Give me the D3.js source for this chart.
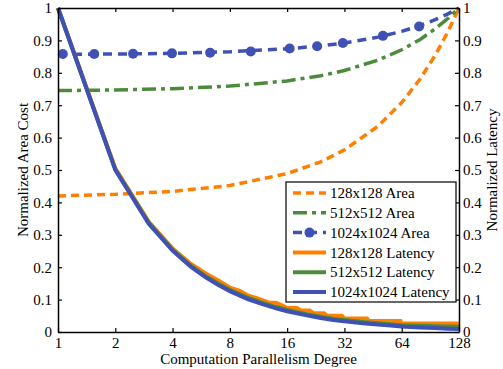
<!DOCTYPE html>
<html><head><meta charset="utf-8">
<script src="https://cdn.jsdelivr.net/npm/d3@7"></script>
<style>body{margin:0;background:#fff}svg{display:block}text{font-family:"Liberation Serif","Times New Roman",serif;fill:#000}</style>
</head><body><svg id="c" width="503" height="369"></svg>
<script>
// ---- data ----
const xTicks = [1, 2, 4, 8, 16, 32, 64, 128];
const yTicks = [0, 0.1, 0.2, 0.3, 0.4, 0.5, 0.6, 0.7, 0.8, 0.9, 1];
const yTickLabels = ["0", "0.1", "0.2", "0.3", "0.4", "0.5", "0.6", "0.7", "0.8", "0.9", "1"];

const areaN = [1, 2, 4, 8, 16, 24, 32, 48, 64, 80, 96, 112, 128];
const area128 = [0.420, 0.425, 0.434, 0.452, 0.489, 0.525, 0.562, 0.635, 0.708, 0.781, 0.854, 0.927, 1.0];
const area512 = [0.745, 0.747, 0.751, 0.759, 0.775, 0.791, 0.807, 0.839, 0.871, 0.903, 0.936, 0.968, 1.0];
const area1024 = [0.857, 0.858, 0.860, 0.865, 0.874, 0.883, 0.892, 0.910, 0.928, 0.946, 0.964, 0.982, 1.0];
const markerN = [1.06, 1.55, 2.48, 3.97, 6.3, 10.3, 16.5, 23, 31.4, 51, 79];
const markerVal = [0.858, 0.858, 0.859, 0.860, 0.862, 0.866, 0.875, 0.882, 0.892, 0.914, 0.943];

const latN = [1, 2, 3, 4, 5, 6, 7, 8, 10, 12, 14, 16, 20, 24, 28, 32, 40, 48, 56, 64, 80, 96, 112, 128];
const lat1024 = [1, 0.5, 0.334, 0.251, 0.201, 0.168, 0.144, 0.126, 0.101, 0.085, 0.073, 0.064, 0.052, 0.043, 0.037, 0.033, 0.027, 0.023, 0.020, 0.017, 0.014, 0.012, 0.010, 0.009];
const lat512 = [1, 0.502, 0.337, 0.254, 0.204, 0.171, 0.148, 0.130, 0.105, 0.089, 0.077, 0.068, 0.056, 0.047, 0.041, 0.037, 0.031, 0.027, 0.024, 0.021, 0.019, 0.018, 0.017, 0.016];
const lat128N = [1, 2, 3, 4, 5, 6, 7, 8, 9, 10, 11, 12, 13, 14, 15, 16, 18, 19, 21, 22, 25, 26, 31, 32, 42, 43, 63, 64, 128];
const lat128 = [1, 0.505, 0.340, 0.258, 0.210, 0.180, 0.158, 0.137, 0.127, 0.112, 0.105, 0.097, 0.090, 0.090, 0.082, 0.074, 0.074, 0.066, 0.066, 0.058, 0.058, 0.050, 0.050, 0.042, 0.042, 0.034, 0.034, 0.026, 0.026];

const ORANGE = "#ff8000", GREEN = "#4b8b3b", BLUE = "#3f51b5";

// ---- chart ----
const svg = d3.select("#c");
const L = 58, R = 459, T = 8, B = 332;
const x = d3.scaleLog().base(2).domain([1, 128]).range([L, R]);
const y = d3.scaleLinear().domain([0, 1]).range([B, T]);
const FS = 15;

const line = (ns, vs) => d3.line().x((d, i) => x(ns[i])).y(d => y(d))(vs);

// area lines
svg.append("path").attr("d", line(areaN, area128)).attr("fill", "none").attr("stroke", ORANGE)
  .attr("stroke-width", 3.5).attr("stroke-dasharray", "8,5");
svg.append("path").attr("d", line(areaN, area512)).attr("fill", "none").attr("stroke", GREEN)
  .attr("stroke-width", 3.5).attr("stroke-dasharray", "14,5,4,5");
svg.append("path").attr("d", line(areaN, area1024)).attr("fill", "none").attr("stroke", BLUE)
  .attr("stroke-width", 3.5).attr("stroke-dasharray", "9,6");
svg.selectAll("circle.m").data(markerVal).enter().append("circle").attr("class", "m")
  .attr("cx", (d, i) => x(markerN[i])).attr("cy", d => y(d)).attr("r", 5).attr("fill", BLUE);

// latency lines
svg.append("path").attr("d", line(lat128N, lat128)).attr("fill", "none").attr("stroke", ORANGE).attr("stroke-width", 4);
svg.append("path").attr("d", line(latN, lat512)).attr("fill", "none").attr("stroke", GREEN).attr("stroke-width", 4);
svg.append("path").attr("d", line(latN, lat1024)).attr("fill", "none").attr("stroke", BLUE).attr("stroke-width", 4);

// axes
const fmt = (d) => yTickLabels[yTicks.indexOf(d)];
const axB = svg.append("g").attr("transform", `translate(0,${B})`)
  .call(d3.axisBottom(x).tickValues(xTicks).tickFormat(d3.format("d")).tickSizeInner(-4).tickSizeOuter(0).tickPadding(5));
const axT = svg.append("g").attr("transform", `translate(0,${T})`)
  .call(d3.axisTop(x).tickValues(xTicks).tickFormat("").tickSizeInner(-4).tickSizeOuter(0));
const axL = svg.append("g").attr("transform", `translate(${L},0)`)
  .call(d3.axisLeft(y).tickValues(yTicks).tickFormat(fmt).tickSizeInner(-4).tickSizeOuter(0).tickPadding(6));
const axR = svg.append("g").attr("transform", `translate(${R},0)`)
  .call(d3.axisRight(y).tickValues(yTicks).tickFormat(fmt).tickSizeInner(-4).tickSizeOuter(0).tickPadding(4));
[axB, axT, axL, axR].forEach(g => {
  g.attr("font-family", null);
  g.selectAll("path.domain").attr("stroke", "#000").attr("stroke-width", 1.5);
  g.selectAll(".tick line").attr("stroke", "#000").attr("stroke-width", 1.2);
  g.selectAll("text").attr("font-family", "Liberation Serif").attr("font-size", FS).attr("fill", "#000");
});

// titles
svg.append("text").attr("x", (L + R) / 2).attr("y", 364).attr("text-anchor", "middle").attr("font-size", FS)
  .text("Computation Parallelism Degree");
svg.append("text").attr("transform", `translate(28,${(T + B) / 2}) rotate(-90)`).attr("text-anchor", "middle")
  .attr("font-size", FS).text("Normalized Area Cost");
svg.append("text").attr("transform", `translate(497,${(T + B) / 2}) rotate(-90)`).attr("text-anchor", "middle")
  .attr("font-size", FS).text("Normalized Latency");

// legend
const legendLabels = ["128x128 Area", "512x512 Area", "1024x1024 Area", "128x128 Latency", "512x512 Latency", "1024x1024 Latency"];
const legendColors = [ORANGE, GREEN, BLUE, ORANGE, GREEN, BLUE];
const legendDash = ["8,5", "14,5,4,5", "9,6", null, null, null];
const lg = svg.append("g");
lg.append("rect").attr("x", 286).attr("y", 182).attr("width", 170).attr("height", 120)
  .attr("fill", "#fff").attr("stroke", "#000").attr("stroke-width", 1.2);
legendLabels.forEach((lab, i) => {
  const yy = 193 + i * 19.8;
  const l = lg.append("line").attr("x1", 293).attr("x2", 326).attr("y1", yy).attr("y2", yy)
    .attr("stroke", legendColors[i]).attr("stroke-width", i < 3 ? 3.5 : 4);
  if (legendDash[i]) l.attr("stroke-dasharray", legendDash[i]);
  if (i === 2) lg.append("circle").attr("cx", 309.5).attr("cy", yy).attr("r", 5).attr("fill", BLUE);
  lg.append("text").attr("x", 330).attr("y", yy).attr("dy", "0.35em").attr("font-size", FS).text(lab);
});
</script></body></html>
